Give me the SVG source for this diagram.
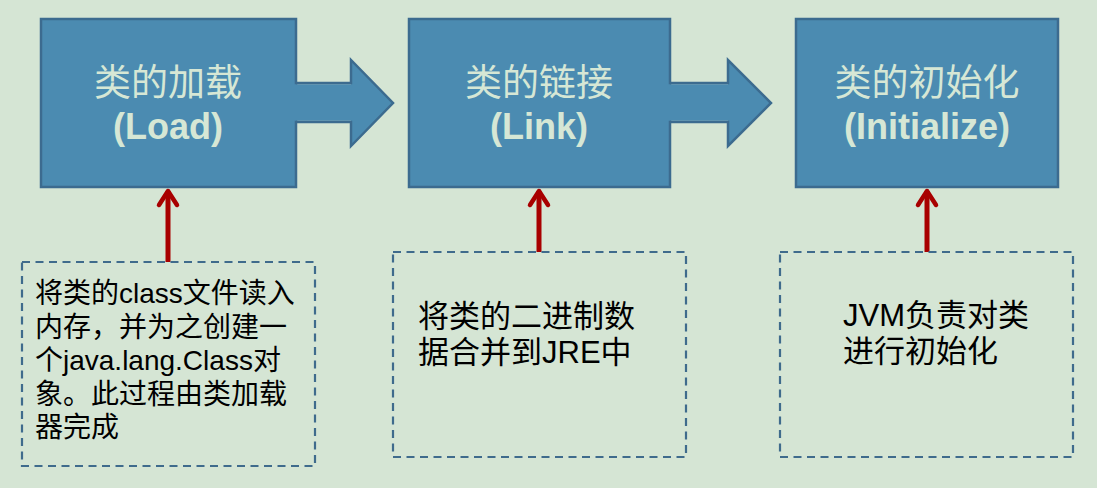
<svg xmlns="http://www.w3.org/2000/svg" width="1097" height="488" viewBox="0 0 1097 488">
<defs>
<style>
.bg{fill:#d5e5d4}
.box{fill:#4b8bb1;stroke:#3c6b8f;stroke-width:2.5}
.arrfill{fill:#4b8bb1;stroke:none}
.arr{fill:none;stroke:#3c6b8f;stroke-width:2.5;stroke-linejoin:miter}
.note{fill:none;stroke:#3f6b8c;stroke-width:2.2;stroke-dasharray:8,5.5}
.title{font-family:"Liberation Sans","Noto Sans CJK SC",sans-serif;fill:#d6e7d5;text-anchor:middle}
.cn{font-size:37px}
.en{font-size:36px;font-weight:bold}
.txt{font-family:"Liberation Sans","Noto Sans CJK SC",sans-serif;fill:#000}
.red{stroke:#a80000;stroke-width:5;fill:none}
.redhead{stroke:#a80000;stroke-width:4.5;fill:none;stroke-linecap:round;stroke-linejoin:round}
</style>
</defs>
<rect class="bg" x="0" y="0" width="1097" height="488"/>
<g id="load">
<rect class="box" x="41" y="19" width="255" height="168"/>
<text class="title cn" x="168" y="96">类的加载</text>
<text class="title en" x="168" y="139">(Load)</text>
</g>
<g id="link">
<rect class="box" x="409" y="19" width="261" height="168"/>
<text class="title cn" x="539" y="96">类的链接</text>
<text class="title en" x="539" y="139">(Link)</text>
</g>
<g id="init">
<rect class="box" x="796" y="19" width="262" height="168"/>
<text class="title cn" x="927" y="96">类的初始化</text>
<text class="title en" x="927" y="139">(Initialize)</text>
</g>
<g id="connectors">
<polygon class="arrfill" points="294,84.2 351,84.2 351,60 393,103 351,146 351,120.8 294,120.8"/>
<polyline class="arr" points="296,83 351,83 351,60 393,103 351,146 351,122 296,122"/>
<polygon class="arrfill" points="668,84.2 728,84.2 728,60 771,103 728,146 728,120.8 668,120.8"/>
<polyline class="arr" points="670,83 728,83 728,60 771,103 728,146 728,122 670,122"/>
<line class="red" x1="168" y1="262" x2="168" y2="191"/>
<polyline class="redhead" points="159,205 168,191 177,205"/>
<line class="red" x1="539" y1="252" x2="539" y2="191"/>
<polyline class="redhead" points="530,205 539,191 548,205"/>
<line class="red" x1="927" y1="252" x2="927" y2="191"/>
<polyline class="redhead" points="918,205 927,191 936,205"/>
</g>
<g id="note-load">
<rect class="note" x="22" y="262" width="293" height="204"/>
<text class="txt" font-size="28" x="35" y="303">将类的class文件读入</text>
<text class="txt" font-size="28" x="35" y="336.5">内存，并为之创建一</text>
<text class="txt" font-size="28" x="35" y="370">个java.lang.Class对</text>
<text class="txt" font-size="28" x="35" y="403.5">象。此过程由类加载</text>
<text class="txt" font-size="28" x="35" y="437">器完成</text>
</g>
<g id="note-link">
<rect class="note" x="393" y="252" width="293" height="205"/>
<text class="txt" font-size="31" x="418" y="327">将类的二进制数</text>
<text class="txt" font-size="31" x="418" y="363">据合并到JRE中</text>
</g>
<g id="note-init">
<rect class="note" x="780" y="252" width="293" height="205"/>
<text class="txt" font-size="31" x="843" y="326">JVM负责对类</text>
<text class="txt" font-size="31" x="843" y="362">进行初始化</text>
</g>
</svg>
